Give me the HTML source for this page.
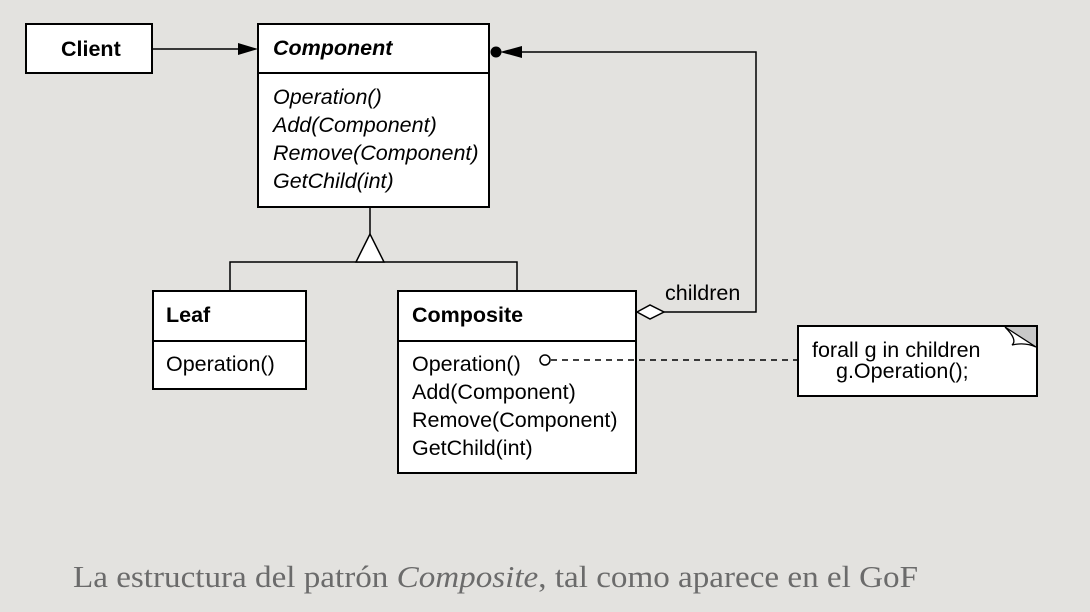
<!DOCTYPE html>
<html><head><style>
body{margin:0;background:#e3e2df;}
svg{display:block}
text{font-family:"Liberation Sans",sans-serif;font-size:21.5px;fill:#000}
</style></head><body>
<svg width="1090" height="612" viewBox="0 0 1090 612">
<rect width="1090" height="612" fill="#e3e2df"/>
<g stroke="#000" stroke-width="2" fill="#fff">
<rect x="26" y="24" width="126" height="49"/>
<rect x="258" y="24" width="231" height="183"/>
<line x1="258" y1="73" x2="489" y2="73"/>
<rect x="153" y="291" width="153" height="98"/>
<line x1="153" y1="341" x2="306" y2="341"/>
<rect x="398" y="291" width="238" height="182"/>
<line x1="398" y1="341" x2="636" y2="341"/>
<rect x="798" y="326" width="239" height="70"/>
</g>
<g stroke="#000" stroke-width="1.5" fill="none">
<line x1="152" y1="49" x2="245" y2="49"/>
<line x1="370" y1="207" x2="370" y2="234"/>
<polyline points="230,291 230,262 517,262 517,291"/>
<polyline points="664,312 756,312 756,52 505,52"/>
<line x1="551" y1="360" x2="798" y2="360" stroke-dasharray="6,5"/>
<circle cx="545" cy="360" r="5" fill="#fff"/>
</g>
<polygon points="258,49 238,43 238,55" fill="#000"/>
<polygon points="370,234 356,262 384,262" fill="#fff" stroke="#000" stroke-width="1.5"/>
<polygon points="500,52 522,46 522,58" fill="#000"/>
<circle cx="496" cy="52" r="5.5" fill="#000"/>
<polygon points="637,312 650,305 664,312 650,319" fill="#fff" stroke="#000" stroke-width="1.5"/>
<polygon points="1005,327 1036,327 1036,347" fill="#c8c8c8"/>
<path d="M1005,327 L1036,347 M1005,327 Q1018,340 1012,345 Q1025,342 1036,347" stroke="#000" stroke-width="1.3" fill="none"/>
<text x="61" y="56" font-weight="bold" font-size="20.5">Client</text>
<text x="273" y="55" font-weight="bold" font-style="italic" font-size="20.5">Component</text>
<text x="273" y="104" font-style="italic">Operation()</text>
<text x="273" y="132" font-style="italic">Add(Component)</text>
<text x="273" y="160" font-style="italic">Remove(Component)</text>
<text x="273" y="188" font-style="italic">GetChild(int)</text>
<text x="166" y="322" font-weight="bold" font-size="20.5">Leaf</text>
<text x="166" y="371">Operation()</text>
<text x="412" y="322" font-weight="bold" font-size="20.5">Composite</text>
<text x="412" y="371">Operation()</text>
<text x="412" y="399">Add(Component)</text>
<text x="412" y="427">Remove(Component)</text>
<text x="412" y="455">GetChild(int)</text>
<text x="665" y="300">children</text>
<text x="812" y="357">forall g in children</text>
<text x="836" y="378">g.Operation();</text>
<text x="73" y="587" textLength="845" lengthAdjust="spacingAndGlyphs" style="font-family:'Liberation Serif',serif;font-size:31px;fill:#6b6b6b">La estructura del patrón <tspan font-style="italic">Composite</tspan>, tal como aparece en el GoF</text>
</svg>
</body></html>
